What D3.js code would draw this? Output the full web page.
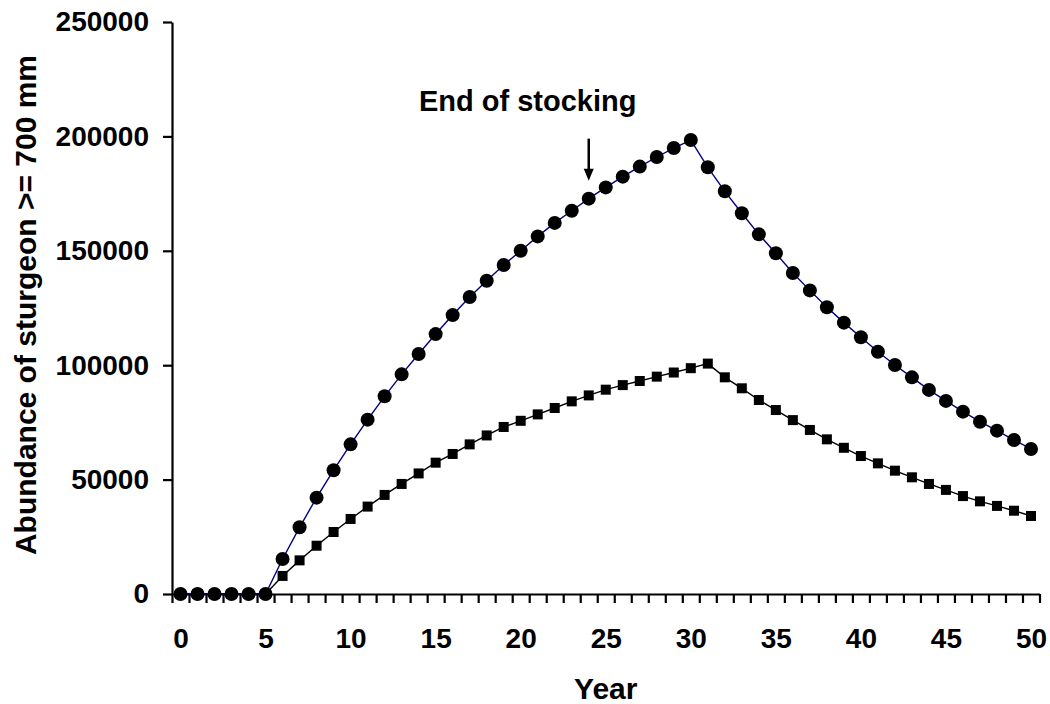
<!DOCTYPE html>
<html>
<head>
<meta charset="utf-8">
<script src="https://cdn.jsdelivr.net/npm/d3@7"></script>
<style>
  body { margin: 0; background: #fff; }
  svg text { font-family: "Liberation Sans", Arial, sans-serif; font-weight: bold; fill: #000; }
</style>
</head>
<body>
<svg width="1050" height="704"></svg>
<script>
//DATA

const years = [0,1,2,3,4,5,6,7,8,9,10,11,12,13,14,15,16,17,18,19,20,21,22,23,24,25,
               26,27,28,29,30,31,32,33,34,35,36,37,38,39,40,41,42,43,44,45,46,47,48,49,50];

// circles, navy line
const abundanceCircles = [0,0,0,0,0,0,15300,29150,42100,54100,65400,76200,86400,96000,104900,113600,
    121900,129800,136900,143800,150000,156300,162200,167500,172800,177700,182400,186800,191000,194900,
    198400,186500,176000,166400,157200,148900,140300,132700,125300,118600,112200,105900,100100,94700,
    89200,84400,79700,75300,71400,67300,63400];

// squares, black line
const abundanceSquares = [0,0,0,0,0,0,7900,14700,21100,27100,32800,38200,43300,48100,52700,57400,
    61200,65400,69300,73000,75700,78500,81300,84200,86800,89300,91300,93100,95000,96800,
    98700,100700,94700,89900,84800,80400,76000,71700,67600,63900,60300,57100,53900,51000,
    48100,45500,42800,40500,38500,36400,34100];

const yTicks = [0, 50000, 100000, 150000, 200000, 250000];
const xLabelYears = [0, 5, 10, 15, 20, 25, 30, 35, 40, 45, 50];
const xTickEdges = years.concat([51]).map(d => d - 0.5);

const annotationYear = 24;
const annotationText = 'End of stocking';
const xTitle = 'Year';
const yTitle = 'Abundance of sturgeon >= 700 mm';

const buildChart = () => {

    const svg = d3.select('svg');

    const left = 172, right = 1039.5, top = 22, bottom = 594;

    const xScale = d3.scaleLinear()
                    .domain([-0.5, 50.5])
                    .range([left, right]);

    const yScale = d3.scaleLinear()
                    .domain([0, 250000])
                    .range([bottom, top]);

    //////// axes
    const gX = svg.append('g')
                  .attr('transform', `translate(0,${bottom})`)
                  .call(d3.axisBottom(xScale).tickValues(xTickEdges).tickSize(9).tickSizeOuter(0).tickFormat(''));

    const gXLabels = svg.append('g')
                  .attr('transform', `translate(0,${bottom})`)
                  .call(d3.axisBottom(xScale).tickValues(xLabelYears).tickSize(0).tickPadding(34));
    gXLabels.select('.domain').remove();

    const gY = svg.append('g')
                  .attr('transform', `translate(${left},0)`)
                  .call(d3.axisLeft(yScale).tickValues(yTicks).tickSize(9).tickSizeOuter(0).tickPadding(14).tickFormat(d3.format('d')));

    [gX, gY].forEach(g => {
        g.selectAll('path, line').attr('stroke', '#000').attr('stroke-width', 2.2);
    });
    [gXLabels, gY].forEach(g => {
        g.selectAll('text').attr('font-size', 28).attr('font-family', null);
    });

    //////// lines
    const lineGen = vals => d3.line()
                        .x((d, i) => xScale(years[i]))
                        .y(d => yScale(d))(vals);

    svg.append('path')
        .attr('d', lineGen(abundanceSquares))
        .attr('fill', 'none')
        .attr('stroke', '#000')
        .attr('stroke-width', 1.4);

    svg.append('path')
        .attr('d', lineGen(abundanceCircles))
        .attr('fill', 'none')
        .attr('stroke', '#000080')
        .attr('stroke-width', 1.4);

    //////// markers
    const sq = 10;
    svg.append('g').selectAll('rect')
        .data(abundanceSquares)
        .enter().append('rect')
        .attr('x', (d, i) => xScale(years[i]) - sq / 2)
        .attr('y', d => yScale(d) - sq / 2)
        .attr('width', sq)
        .attr('height', sq)
        .attr('fill', '#000');

    svg.append('g').selectAll('circle')
        .data(abundanceCircles)
        .enter().append('circle')
        .attr('cx', (d, i) => xScale(years[i]))
        .attr('cy', d => yScale(d))
        .attr('r', 7)
        .attr('fill', '#000');

    //////// annotation
    const ax = xScale(annotationYear);
    const tipY = yScale(abundanceCircles[annotationYear]) - 18;

    svg.append('line')
        .attr('x1', ax).attr('x2', ax)
        .attr('y1', tipY - 42).attr('y2', tipY - 10)
        .attr('stroke', '#000')
        .attr('stroke-width', 2.5);
    svg.append('path')
        .attr('d', `M${ax - 5},${tipY - 12}L${ax + 5},${tipY - 12}L${ax},${tipY}Z`)
        .attr('fill', '#000');

    svg.append('text')
        .attr('x', ax - 61)
        .attr('y', tipY - 70)
        .attr('text-anchor', 'middle')
        .attr('font-size', 29)
        .text(annotationText);

    //////// titles
    svg.append('text')
        .attr('x', (left + right) / 2)
        .attr('y', 699)
        .attr('text-anchor', 'middle')
        .attr('font-size', 30)
        .text(xTitle);

    svg.append('text')
        .attr('transform', `translate(36,305) rotate(-90)`)
        .attr('text-anchor', 'middle')
        .attr('font-size', 30)
        .text(yTitle);
};

buildChart();
</script>
</body>
</html>
